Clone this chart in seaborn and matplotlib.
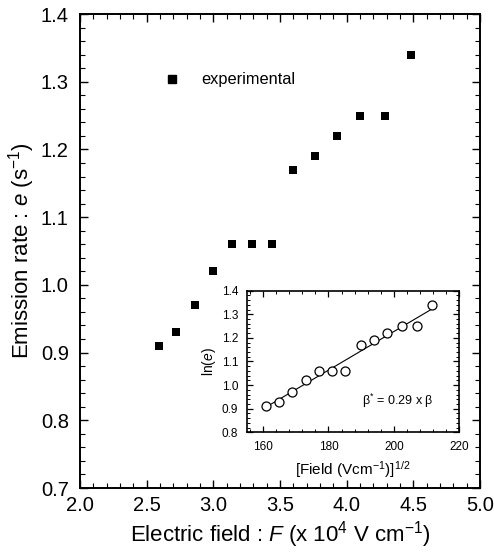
import numpy as np
import pandas as pd
import matplotlib
matplotlib.use("Agg")
import matplotlib.pyplot as plt
from matplotlib.ticker import MultipleLocator
from matplotlib.lines import Line2D
import seaborn as sns

# ---- data ----
field = [2.59, 2.72, 2.86, 3.00, 3.14, 3.29, 3.44, 3.60, 3.76, 3.93, 4.10, 4.29, 4.48]
rate = [0.91, 0.93, 0.97, 1.02, 1.06, 1.06, 1.06, 1.17, 1.19, 1.22, 1.25, 1.25, 1.34]
sqrt_field = [161, 165, 169, 173, 177, 181, 185, 190, 194, 198, 202.5, 207, 211.7]
ln_e = [0.91, 0.93, 0.97, 1.02, 1.06, 1.06, 1.06, 1.17, 1.19, 1.22, 1.25, 1.25, 1.34]
main_xticks = [2.0, 2.5, 3.0, 3.5, 4.0, 4.5, 5.0]
main_yticks = [0.7, 0.8, 0.9, 1.0, 1.1, 1.2, 1.3, 1.4]
inset_xticks = [160, 180, 200, 220]
inset_yticks = [0.8, 0.9, 1.0, 1.1, 1.2, 1.3, 1.4]
legend_label = "experimental"

sns.set_theme(style="ticks", rc={
    "text.color": "black", "axes.labelcolor": "black",
    "xtick.color": "black", "ytick.color": "black", "axes.edgecolor": "black",
})
plt.rcParams['font.family'] = ['Liberation Sans', 'DejaVu Sans']
plt.rcParams['mathtext.fontset'] = 'custom'
plt.rcParams['mathtext.rm'] = 'Liberation Sans'
plt.rcParams['mathtext.it'] = 'Liberation Sans:italic'
plt.rcParams['mathtext.default'] = 'regular'

df_main = pd.DataFrame({"F": field, "e": rate})
df_in = pd.DataFrame({"s": sqrt_field, "ln": ln_e})

fig = plt.figure(figsize=(4.94, 5.56), dpi=100)
ax = fig.add_axes([0.1619, 0.1223, 0.8097, 0.8525])

sns.scatterplot(data=df_main, x="F", y="e", ax=ax, marker="s", s=36,
                color="black", edgecolor="black", linewidth=0, legend=False)
ax.set_xlim(2.0, 5.0)
ax.set_ylim(0.7, 1.4)
ax.set_xticks(main_xticks)
ax.set_yticks(main_yticks)
ax.set_xticklabels([f"{v:.1f}" for v in main_xticks])
ax.set_yticklabels([f"{v:.1f}" for v in main_yticks])
ax.xaxis.set_minor_locator(MultipleLocator(0.1))
ax.yaxis.set_minor_locator(MultipleLocator(0.02))
ax.tick_params(which="both", direction="in", top=True, right=True, color="black")
ax.tick_params(which="major", length=6, width=1.0, labelsize=14.5, pad=6)
ax.tick_params(which="major", axis="y", pad=8)
ax.tick_params(which="minor", length=3.5, width=0.8)
for sp in ax.spines.values():
    sp.set_linewidth(1.4)
    sp.set_color("black")
ax.set_xlabel(r"Electric field : $\it{F}$ (x 10$^{4}$ V cm$^{-1}$)", fontsize=16, labelpad=3)
ax.set_ylabel(r"Emission rate : $\it{e}$ (s$^{-1}$)", fontsize=16, labelpad=3)

handle = Line2D([], [], marker="s", linestyle="none", color="black", markersize=6)
ax.legend([handle], [legend_label], loc="center left", bbox_to_anchor=(0.172, 0.861),
          frameon=False, fontsize=11.8, handletextpad=0.8, borderaxespad=0)

# ---- inset ----
ins = fig.add_axes([0.4994, 0.2225, 0.4304, 0.2547])
sns.regplot(data=df_in, x="s", y="ln", ax=ins, scatter=False, ci=None,
            line_kws=dict(color="black", linewidth=0.8))
sns.scatterplot(data=df_in, x="s", y="ln", ax=ins, marker="o", s=42,
                facecolor="white", edgecolor="black", linewidth=0.9, legend=False, zorder=3)
ins.set_xlim(155, 220)
ins.set_ylim(0.8, 1.4)
ins.set_xticks(inset_xticks)
ins.set_yticks(inset_yticks)
ins.set_yticklabels([f"{v:.1f}" for v in inset_yticks])
ins.xaxis.set_minor_locator(MultipleLocator(4))
ins.yaxis.set_minor_locator(MultipleLocator(0.02))
ins.tick_params(which="both", direction="in", top=True, right=True, color="black")
ins.tick_params(which="major", length=4.5, width=0.9, labelsize=8.5, pad=6)
ins.tick_params(which="minor", length=2.5, width=0.7)
for sp in ins.spines.values():
    sp.set_linewidth(1.2)
    sp.set_color("black")
ins.set_xlabel(r"[Field (Vcm$^{-1}$)]$^{1/2}$", fontsize=11, labelpad=5)
ins.set_ylabel(r"ln($\it{e}$)", fontsize=10, labelpad=3)
ins.text(190.4, 0.933, r"β$^{*}$ = 0.29 x β", fontsize=9, va="center", ha="left")

fig.savefig("out.png", dpi=100)
